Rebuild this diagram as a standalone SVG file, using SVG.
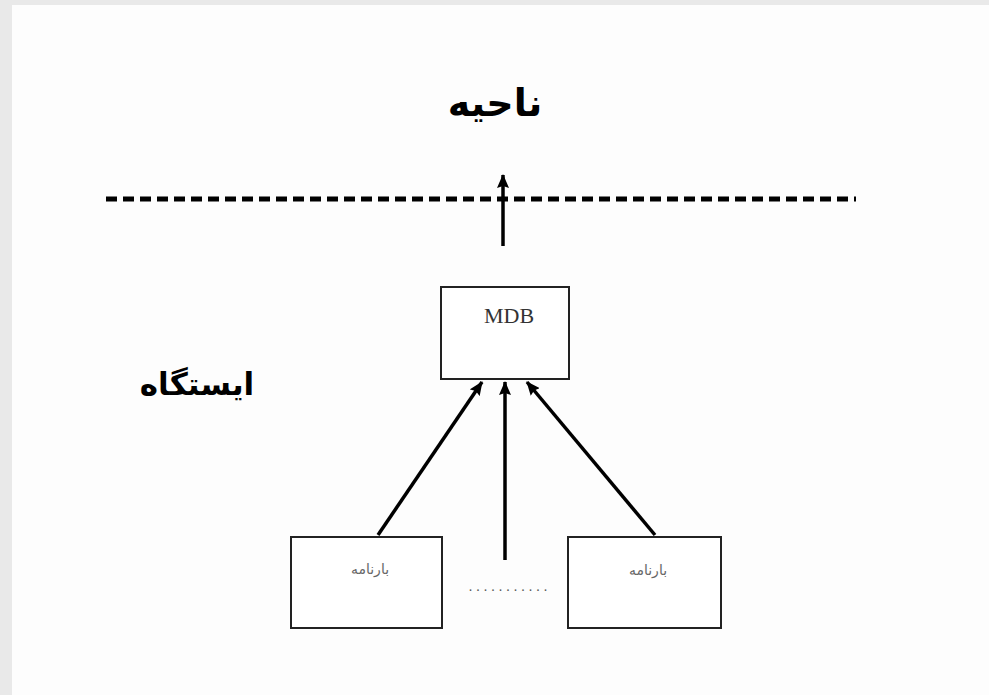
<svg xmlns="http://www.w3.org/2000/svg" width="989" height="695" viewBox="0 0 989 695">
<defs>
<marker id="ah" markerUnits="userSpaceOnUse" markerWidth="14" markerHeight="12" viewBox="0 0 14 12" refX="13" refY="6" orient="auto">
<path d="M0,0 L14,6 L0,12 L2,6 Z" fill="#000"/>
</marker>
<style>
.box{fill:#fff;stroke:#222;stroke-width:2}
.conn{stroke:#000;stroke-width:3.5;fill:none}
.fa{font-family:"DejaVu Sans","Noto Sans",sans-serif;text-anchor:middle}
</style>
</defs>
<rect x="0" y="0" width="989" height="695" fill="#e9e9e9"/>
<rect x="12" y="5" width="977" height="690" fill="#fdfdfd"/>
<g id="title-region">
<text class="fa" x="495" y="116" font-size="38" font-weight="bold" fill="#000">ناحیه</text>
</g>
<g id="title-station">
<text class="fa" x="197" y="395" font-size="31" font-weight="bold" fill="#000">ایستگاه</text>
</g>
<g id="boundary">
<line x1="106" y1="199" x2="856" y2="199" stroke="#000" stroke-width="5" stroke-dasharray="11,6"/>
</g>
<g id="mdb">
<rect class="box" x="441" y="287" width="128" height="92"/>
<text x="509" y="323" font-family="Liberation Serif,serif" font-size="22" text-anchor="middle" fill="#333">MDB</text>
</g>
<g id="bill-left">
<rect class="box" x="291" y="537" width="151" height="91"/>
<text class="fa" x="370" y="574" font-size="14" fill="#666">بارنامه</text>
</g>
<g id="bill-right">
<rect class="box" x="568" y="537" width="153" height="91"/>
<text class="fa" x="648" y="575" font-size="14" fill="#666">بارنامه</text>
</g>
<g id="ellipsis">
<text x="510" y="591" font-family="Liberation Serif,serif" font-size="14" letter-spacing="4" text-anchor="middle" fill="#555">...........</text>
</g>
<g id="connectors">
<line class="conn" x1="503" y1="246" x2="503" y2="175" marker-end="url(#ah)" stroke-width="4.5"/>
<line class="conn" x1="378" y1="535" x2="482" y2="382" marker-end="url(#ah)"/>
<line class="conn" x1="505" y1="560" x2="505" y2="382" marker-end="url(#ah)"/>
<line class="conn" x1="655" y1="535" x2="527" y2="382" marker-end="url(#ah)"/>
</g>
</svg>
